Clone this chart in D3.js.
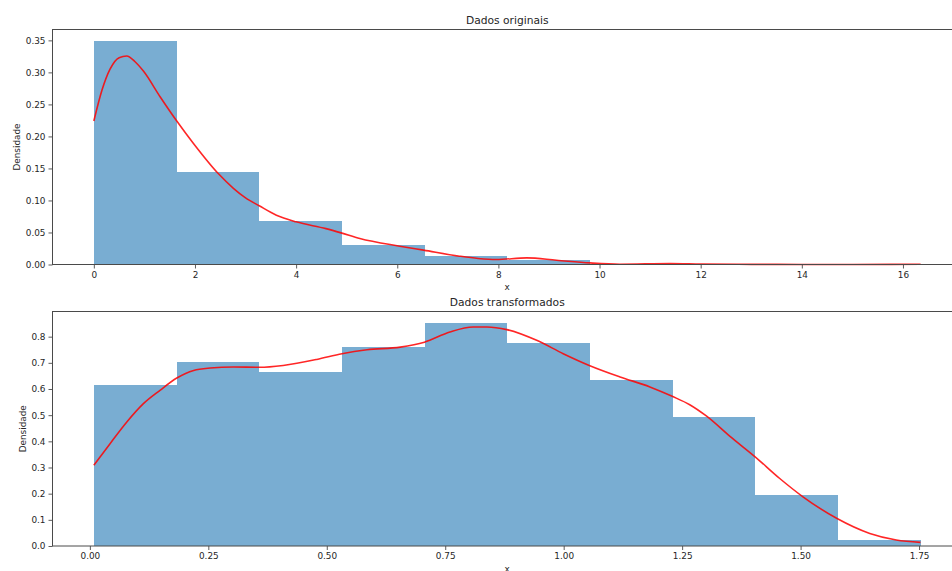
<!DOCTYPE html>
<html>
<head>
<meta charset="utf-8">
<script src="https://cdn.jsdelivr.net/npm/d3@7"></script>
<style>
  html, body { margin: 0; padding: 0; background: #fff; }
  svg { display: block; font-family: "DejaVu Sans", sans-serif; }
</style>
</head>
<body>
<svg id="fig" width="952" height="571"></svg>
<script>
// ---- Dados originais: histogram (density) + KDE ----
const origEdges   = [0, 1.635, 3.27, 4.905, 6.54, 8.175, 9.81, 11.445, 13.08, 14.715, 16.35];
const origDensity = [0.3495, 0.1437, 0.0677, 0.0302, 0.0125, 0.0067, 0.0006, 0, 0, 0.0006];
const origKdeX = [0, 0.16, 0.32, 0.5, 0.65, 0.81, 0.98, 1.31, 1.64, 1.97, 2.46, 2.76, 3.0, 3.27, 3.61, 4.0,
                  4.59, 4.89, 5.26, 6.05, 6.52, 7.23, 7.6, 7.96, 8.56, 9.15, 9.81, 10.4, 11.4, 12.0, 13.0,
                  14.0, 15.0, 16.35];
const origKdeY = [0.224, 0.272, 0.305, 0.323, 0.3255, 0.317, 0.302, 0.262, 0.224, 0.189, 0.142, 0.119, 0.104,
                  0.0917, 0.077, 0.0666, 0.056, 0.0494, 0.0406, 0.0286, 0.0224, 0.013, 0.0094, 0.0078, 0.0104,
                  0.0067, 0.0025, 0.0005, 0.0015, 0.0008, 0.0002, 0.0001, 0.0001, 0.0004];
const origXTicks = [0, 2, 4, 6, 8, 10, 12, 14, 16];
const origYTicks = [0, 0.05, 0.10, 0.15, 0.20, 0.25, 0.30, 0.35];

// ---- Dados transformados: histogram (density) + KDE ----
const transEdges   = [0.0084, 0.1829, 0.3574, 0.5319, 0.7064, 0.8809, 1.0554, 1.2299, 1.4044, 1.5789, 1.7534];
const transDensity = [0.617, 0.703, 0.665, 0.760, 0.8535, 0.777, 0.6345, 0.4934, 0.1946, 0.0229];
const transKdeX = [0.0084, 0.043, 0.078, 0.113, 0.148, 0.1835, 0.219, 0.254, 0.303, 0.358, 0.408, 0.479, 0.532,
                   0.585, 0.655, 0.706, 0.760, 0.809, 0.838, 0.880, 0.943, 0.999, 1.054, 1.119, 1.182, 1.229,
                   1.266, 1.301, 1.351, 1.404, 1.456, 1.505, 1.576, 1.646, 1.702, 1.753];
const transKdeY = [0.309, 0.392, 0.474, 0.544, 0.595, 0.642, 0.671, 0.680, 0.684, 0.683, 0.690, 0.713, 0.735,
                   0.750, 0.760, 0.779, 0.818, 0.837, 0.837, 0.827, 0.786, 0.735, 0.690, 0.646, 0.608, 0.572,
                   0.540, 0.497, 0.419, 0.341, 0.258, 0.188, 0.106, 0.048, 0.023, 0.014];
const transXTicks = [0, 0.25, 0.5, 0.75, 1.0, 1.25, 1.5, 1.75];
const transYTicks = [0, 0.1, 0.2, 0.3, 0.4, 0.5, 0.6, 0.7, 0.8];

const svg = d3.select("#fig");
const TEXT = "#262626";
const SPINE = "#4a4a4a";
const TICK_FONT = 8.9;

function panel(opts) {
  const { box, edges, density, kdeX, kdeY, xTicks, yTicks, xFmt, yFmt, title, ylabelX } = opts;
  const g = svg.append("g");

  // 5% margins on both axes, like the plotting default
  const xmin = edges[0], xmax = edges[edges.length - 1];
  const xpad = (xmax - xmin) * 0.05;
  const ymax = d3.max(density);
  const x = d3.scaleLinear().domain([xmin - xpad, xmax + xpad]).range([box.left, box.right]);
  const y = d3.scaleLinear().domain([0, ymax * 1.05]).range([box.bottom, box.top]);

  // histogram bars
  const bins = density.map((d, i) => ({ x0: edges[i], x1: edges[i + 1], v: d }));
  g.append("g").selectAll("rect").data(bins).join("rect")
    .attr("x", d => x(d.x0))
    .attr("width", d => x(d.x1) - x(d.x0))
    .attr("y", d => y(d.v))
    .attr("height", d => y(0) - y(d.v))
    .attr("fill", "#1f77b4").attr("fill-opacity", 0.6)
    .attr("shape-rendering", "crispEdges");

  // KDE curve
  const pts = kdeX.map((v, i) => [v, kdeY[i]]);
  g.append("path").datum(pts)
    .attr("fill", "none")
    .attr("stroke", "red").attr("stroke-opacity", 0.85).attr("stroke-width", 1.6)
    .attr("d", d3.line().x(d => x(d[0])).y(d => y(d[1])).curve(d3.curveMonotoneX));

  // axes
  const xAxis = d3.axisBottom(x).tickValues(xTicks).tickFormat(xFmt).tickSizeOuter(0).tickSizeInner(4).tickPadding(3);
  const yAxis = d3.axisLeft(y).tickValues(yTicks).tickFormat(yFmt).tickSizeOuter(0).tickSizeInner(4).tickPadding(3);
  const gx = g.append("g").attr("transform", `translate(0,${box.bottom})`).call(xAxis);
  const gy = g.append("g").attr("transform", `translate(${box.left},0)`).call(yAxis);
  [gx, gy].forEach(a => {
    a.select(".domain").remove();
    a.selectAll(".tick line").attr("stroke", SPINE).attr("stroke-width", 0.9);
    a.selectAll(".tick text").attr("fill", TEXT).attr("font-size", TICK_FONT)
      .attr("font-family", "DejaVu Sans, sans-serif");
  });

  // frame (spines)
  g.append("rect")
    .attr("x", box.left).attr("y", box.top)
    .attr("width", box.right - box.left).attr("height", box.bottom - box.top)
    .attr("fill", "none").attr("stroke", SPINE).attr("stroke-width", 1);

  // title and axis labels
  const cx = (box.left + box.right) / 2;
  g.append("text").attr("x", cx).attr("y", box.top - 6)
    .attr("text-anchor", "middle").attr("font-size", 10.7).attr("fill", TEXT).text(title);
  g.append("text").attr("x", cx).attr("y", box.bottom + 25.5)
    .attr("text-anchor", "middle").attr("font-size", TICK_FONT).attr("fill", TEXT).text("x");
  g.append("text")
    .attr("transform", `translate(${ylabelX},${(box.top + box.bottom) / 2}) rotate(-90)`)
    .attr("text-anchor", "middle").attr("font-size", TICK_FONT).attr("fill", TEXT).text("Densidade");
}

panel({
  box: { left: 52.5, right: 962, top: 29.5, bottom: 264.5 },
  edges: origEdges, density: origDensity, kdeX: origKdeX, kdeY: origKdeY,
  xTicks: origXTicks, yTicks: origYTicks,
  xFmt: d3.format("d"), yFmt: d3.format(".2f"),
  title: "Dados originais", ylabelX: 19.5
});

panel({
  box: { left: 52.5, right: 962, top: 311.5, bottom: 546 },
  edges: transEdges, density: transDensity, kdeX: transKdeX, kdeY: transKdeY,
  xTicks: transXTicks, yTicks: transYTicks,
  xFmt: d3.format(".2f"), yFmt: d3.format(".1f"),
  title: "Dados transformados", ylabelX: 25.5
});
</script>
</body>
</html>
